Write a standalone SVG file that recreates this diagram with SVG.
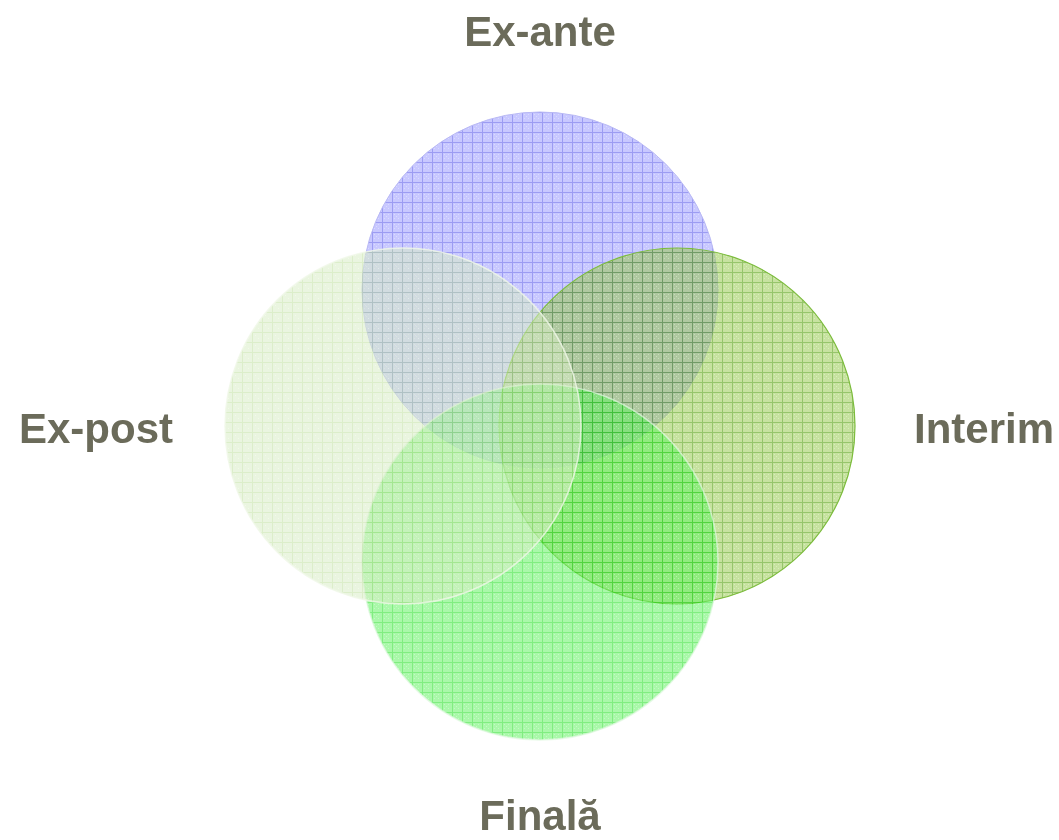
<svg xmlns="http://www.w3.org/2000/svg" width="1059" height="840" viewBox="0 0 1059 840">
<style>
.lbl{font-family:"Liberation Sans",Arial,sans-serif;font-weight:bold;font-size:42px;fill:#6b6b5a}
.mul{mix-blend-mode:multiply}
.gl{fill:none;stroke-width:1;shape-rendering:crispEdges}
</style>
<defs>
<pattern id="pBlue" patternUnits="userSpaceOnUse" width="10" height="10" x="2" y="2">
<rect width="10" height="10" fill="#c8c8ff"/>
<rect x="2" y="2" width="1" height="1" fill="#dadaff"/><rect x="4" y="4" width="1" height="1" fill="#dadaff"/><rect x="6" y="6" width="1" height="1" fill="#dadaff"/><rect x="6" y="2" width="1" height="1" fill="#dadaff"/><rect x="2" y="6" width="1" height="1" fill="#dadaff"/>
<path class="gl" d="M0 0.5H10M0.5 0V10" stroke="#9c9cf2"/>
</pattern>
<pattern id="pOlive" patternUnits="userSpaceOnUse" width="10" height="10" x="2" y="2">
<rect width="10" height="10" fill="#c4e295"/>
<rect x="2" y="2" width="1" height="1" fill="#d6edb4"/><rect x="4" y="4" width="1" height="1" fill="#d6edb4"/><rect x="6" y="6" width="1" height="1" fill="#d6edb4"/><rect x="6" y="2" width="1" height="1" fill="#d6edb4"/><rect x="2" y="6" width="1" height="1" fill="#d6edb4"/>
<path class="gl" d="M0 0.5H10M0.5 0V10" stroke="#88c24a"/>
</pattern>
<pattern id="pPale" patternUnits="userSpaceOnUse" width="10" height="10" x="2" y="2">
<rect width="10" height="10" fill="#d9edc7"/>
<rect x="3" y="3" width="1" height="1" fill="#e6f4d8"/><rect x="6" y="6" width="1" height="1" fill="#e6f4d8"/>
<path class="gl" d="M0 0.5H10M0.5 0V10" stroke="#bfdf9e"/>
</pattern>
<pattern id="pGreen" patternUnits="userSpaceOnUse" width="10" height="10" x="2" y="2">
<rect width="10" height="10" fill="#62f262"/>
<rect x="2" y="2" width="1" height="1" fill="#90f890"/><rect x="4" y="4" width="1" height="1" fill="#90f890"/><rect x="6" y="6" width="1" height="1" fill="#90f890"/><rect x="6" y="2" width="1" height="1" fill="#90f890"/><rect x="2" y="6" width="1" height="1" fill="#90f890"/>
<path class="gl" d="M0 0.5H10M0.5 0V10" stroke="#18de18"/>
</pattern>
</defs>
<g id="node-exante">
<circle cx="540" cy="290" r="178" fill="url(#pBlue)" stroke="#b8b8f4" stroke-width="1"/>
</g>
<g id="node-interim">
<circle cx="677" cy="426" r="178" fill="url(#pOlive)" opacity="0.5"/>
<circle class="mul" cx="677" cy="426" r="178" fill="url(#pOlive)" opacity="0.5"/>
<circle cx="677" cy="426" r="178" fill="none" stroke="#7cbc3c" stroke-width="1.2"/>
</g>
<g id="node-finala">
<circle cx="540" cy="562" r="178" fill="url(#pGreen)" opacity="0.55"/>
<circle cx="540" cy="562" r="178" fill="none" stroke="#e0f8e0" stroke-width="1.5" opacity="0.7"/>
</g>
<g id="node-expost">
<circle cx="403" cy="426" r="178" fill="url(#pPale)" opacity="0.55"/>
<circle cx="403" cy="426" r="178" fill="none" stroke="#f0f8e8" stroke-width="1.5" opacity="0.8"/>
</g>
<g id="connectors"></g>
<g id="labels">
<text class="lbl" x="540" y="46" text-anchor="middle">Ex-ante</text>
<text class="lbl" x="96" y="443" text-anchor="middle">Ex-post</text>
<text class="lbl" x="984" y="443" text-anchor="middle">Interim</text>
<text class="lbl" x="540" y="830" text-anchor="middle">Finală</text>
</g>
</svg>
